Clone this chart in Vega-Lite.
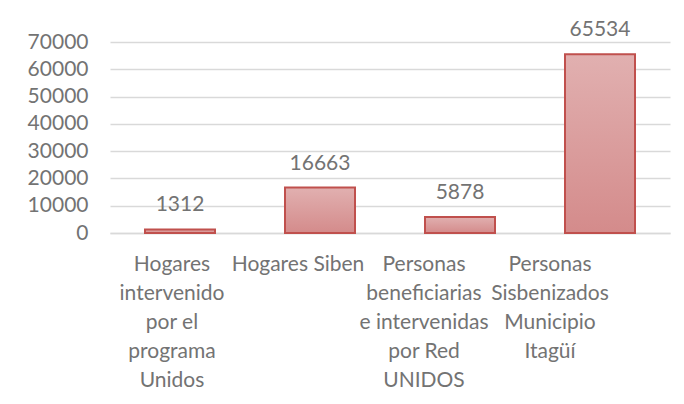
{
  "$schema": "https://vega.github.io/schema/vega-lite/v6.json",
  "autosize": {"type": "none"},
  "width": 560,
  "height": 191,
  "padding": {"left": 110, "top": 42, "right": 14, "bottom": 171},
  "background": "white",
  "config": {
    "font": "Lato",
    "view": {"stroke": null}
  },
  "data": {
    "values": [
      {"cat": "Hogares|intervenido|por el|programa|Unidos", "value": 1312, "order": 1},
      {"cat": "Hogares Siben", "value": 16663, "order": 2},
      {"cat": "Personas|beneficiarias|e intervenidas|por Red|UNIDOS", "value": 5878, "order": 3},
      {"cat": "Personas|Sisbenizados|Municipio|Itagüí", "value": 65534, "order": 4}
    ]
  },
  "encoding": {
    "x": {
      "field": "cat",
      "type": "nominal",
      "sort": {"field": "order"},
      "title": null,
      "scale": {"paddingInner": 0.5, "paddingOuter": 0.25},
      "axis": {
        "labelAngle": 0,
        "labelExpr": "split(datum.label, '|')",
        "labelFont": "Lato",
        "labelFontSize": 21,
        "labelColor": "#737373",
        "labelLineHeight": 29,
        "labelBaseline": "top",
        "labelPadding": 20,
        "labelOffset": {"expr": "-8 - 42*datum.index"},
        "ticks": false,
        "domainColor": "#d9d9d9",
        "domainWidth": 1.5,
        "labelLimit": 0
      }
    },
    "y": {
      "field": "value",
      "type": "quantitative",
      "title": null,
      "scale": {"domain": [0, 70000]},
      "axis": {
        "values": [0, 10000, 20000, 30000, 40000, 50000, 60000, 70000],
        "format": "d",
        "labelFont": "Lato",
        "labelFontSize": 21,
        "labelColor": "#737373",
        "labelPadding": 22,
        "ticks": false,
        "domain": false,
        "gridColor": "#d9d9d9",
        "gridWidth": 1.5
      }
    }
  },
  "layer": [
    {
      "mark": {
        "type": "bar",
        "stroke": "#c0504d",
        "strokeWidth": 2,
        "color": {
          "gradient": "linear",
          "x1": 0, "y1": 0, "x2": 0, "y2": 1,
          "stops": [
            {"offset": 0, "color": "#e1b0b0"},
            {"offset": 1, "color": "#d48b8b"}
          ]
        }
      }
    },
    {
      "mark": {
        "type": "text",
        "font": "Lato",
        "fontSize": 21,
        "color": "#737373",
        "baseline": "alphabetic",
        "dy": -18
      },
      "encoding": {
        "text": {"field": "value", "type": "quantitative", "format": "d"}
      }
    }
  ]
}
